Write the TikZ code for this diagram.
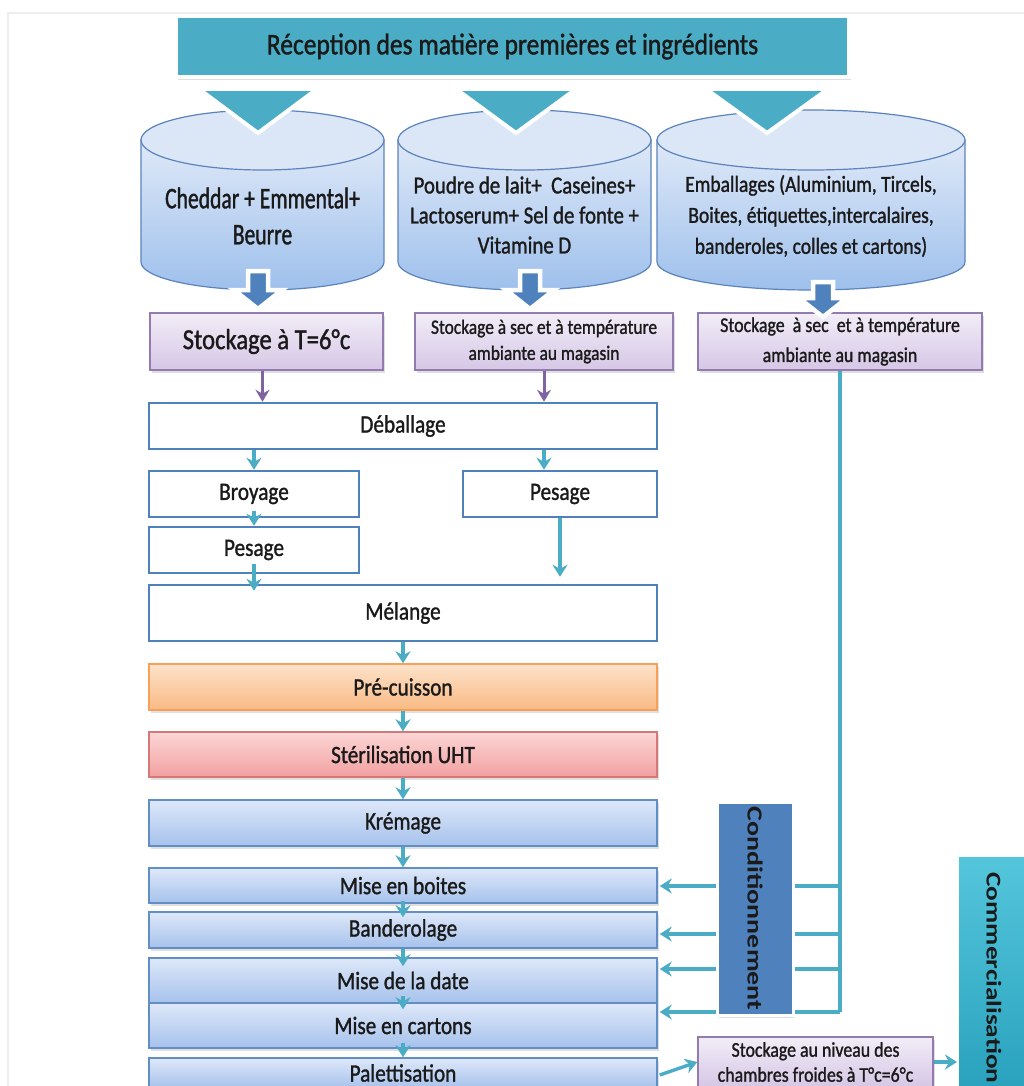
\documentclass[tikz,border=0pt]{standalone}
\usepackage{fontspec}
\usepackage{graphicx}
\setmainfont{Carlito}[FakeStretch=0.85,FakeBold=1.2]
\newfontfamily\narrowfont{Carlito}[FakeStretch=0.72,FakeBold=1.2]
\newfontfamily\widefont{Carlito}[FakeStretch=1.3]
\usetikzlibrary{arrows.meta,shadows}

\definecolor{tealA}{HTML}{4BACC6}
\definecolor{accB}{HTML}{4F81BD}
\definecolor{txt}{HTML}{1A1A1A}
\definecolor{tankline}{HTML}{5B83BC}
\definecolor{purpA}{HTML}{8064A2}
\definecolor{framegray}{HTML}{EEEEEE}
\definecolor{tankTop}{HTML}{DFE9F8}
\definecolor{tankBot}{HTML}{9EC0EC}
\definecolor{tankLid}{HTML}{DBE6F6}
\definecolor{storeTop}{HTML}{F2EDF7}
\definecolor{storeBot}{HTML}{D6C7E6}
\definecolor{blueTop}{HTML}{DEE8F9}
\definecolor{blueBot}{HTML}{A6C2EC}
\definecolor{orangeLine}{HTML}{F6A05A}
\definecolor{orangeTop}{HTML}{FDE2CA}
\definecolor{orangeBot}{HTML}{F9BA84}
\definecolor{redLine}{HTML}{D67878}
\definecolor{redTop}{HTML}{FCD6D6}
\definecolor{redBot}{HTML}{F2A0A0}
\definecolor{commTop}{HTML}{54C6DC}
\definecolor{commBot}{HTML}{28A0BC}

\newcommand\fsz[2]{\fontsize{#1}{#2}\selectfont}

% storage tank: left x, right x
\newcommand\tank[2]{%
  \pgfmathsetmacro\tkr{(#2-#1)/2}%
  \pgfmathsetmacro\tkc{(#2+#1)/2}%
  \path[tankbody] (#1,-140) -- (#1,-262)
    arc[start angle=180,end angle=360,x radius=\tkr pt,y radius=28pt]
    -- (#2,-140) -- cycle;
  \path[tanktop] (\tkc,-140) ellipse [x radius=\tkr pt, y radius=30pt];
}

% block arrow pointing down: centre x, shaft top, head base, tip
\newcommand\blockdown[4]{%
  \path[barrow] ({#1-10},-#2) -- ({#1+10},-#2) -- ({#1+10},-#3) -- ({#1+24},-#3)
    -- (#1,-#4) -- ({#1-24},-#3) -- ({#1-10},-#3) -- cycle;
}

\begin{document}
\begin{tikzpicture}[x=1pt,y=1pt,
  every node/.style={text=txt, align=center, inner sep=0pt},
  softshadow/.style={drop shadow={shadow xshift=2pt, shadow yshift=-3pt, opacity=0.25}},
  banner/.style={fill=tealA, draw=white, line width=4pt, softshadow,
    minimum width=673pt, minimum height=61pt, font=\fsz{30}{36}},
  chevron/.style={fill=tealA, draw=white, line width=4pt, line join=miter},
  tankbody/.style={draw=tankline, line width=1.2pt, top color=tankTop, bottom color=tankBot},
  tanktop/.style={draw=tankline, line width=1.2pt, fill=tankLid},
  tanktext/.style={text=txt},
  store/.style={draw=purpA!85, line width=1.4pt, top color=storeTop, bottom color=storeBot, softshadow},
  barrow/.style={fill=accB, draw=white, line width=4.5pt, line join=miter,
    drop shadow={shadow xshift=1pt, shadow yshift=-2pt, opacity=0.25}},
  proc/.style={draw=accB, line width=2.5pt, fill=white, font=\fsz{25}{30}},
  grad/.style={line width=1.5pt, font=\fsz{25}{30}, softshadow, minimum width=508pt},
  bluebox/.style={grad, draw=accB!90, top color=blueTop, bottom color=blueBot},
  orangebox/.style={grad, draw=orangeLine, top color=orangeTop, bottom color=orangeBot},
  redbox/.style={grad, draw=redLine, top color=redTop, bottom color=redBot},
  flow/.style={draw=tealA, line width=3.4pt, -{Stealth[length=12pt,width=15pt,inset=4pt]}},
  parrow/.style={draw=purpA, line width=3pt, -{Stealth[length=12pt,width=14pt,inset=4pt]}},
  tline/.style={draw=tealA, line width=3.4pt},
  condbox/.style={fill=accB, draw=white, line width=3pt, softshadow,
    minimum width=76pt, minimum height=213pt, font=\fsz{21.5}{26}},
  commbox/.style={draw=white, line width=2pt, top color=commTop, bottom color=commBot, softshadow,
    minimum width=72pt, minimum height=244pt, font=\fsz{21}{26}},
  framegrayline/.style={draw=framegray, line width=2pt}
]
\useasboundingbox (0,0) rectangle (1024,-1086);
\clip (0,0) rectangle (1024,-1086);
\fill[white] (0,0) rectangle (1024,-1086);

% page frame
\draw[framegrayline] (1024,-13) -- (8,-13) -- (8,-1086);

% reception banner
\node[banner] (recv) at (512.5,-46.5) {Réception des matière premières et ingrédients};

% raw material tanks
\tank{141}{384}
\tank{398}{651}
\tank{657}{965}
\node[tanktext, font=\narrowfont\fsz{30}{36}] (tankA) at (262.5,-216)
  {Cheddar + Emmental+\\Beurre};
\node[tanktext, font=\fsz{24.5}{30}] (tankB) at (524.5,-215)
  {Poudre de lait+\ \ Caseines+\\Lactoserum+ Sel de fonte +\\Vitamine D};
\node[tanktext, font=\fsz{23}{31}] (tankC) at (811,-216)
  {Emballages (Aluminium, Tircels,\\Boites, étiquettes,intercalaires,\\banderoles, colles et cartons)};

% chevrons from the banner into the tanks
\path[chevron] (199,-89) -- (317,-89) -- (258,-133) -- cycle;
\path[chevron] (456,-89) -- (576,-89) -- (516,-133) -- cycle;
\path[chevron] (706,-89) -- (828,-89) -- (767,-133) -- cycle;

% storage
\node[store, minimum width=233pt, minimum height=57pt, font=\fsz{29}{34}] (stA) at (266.5,-341.5)
  {Stockage à T=6°c};
\node[store, minimum width=258pt, minimum height=57pt, font=\fsz{20.5}{26}] (stB) at (544,-341.5)
  {Stockage à sec et à température\\ambiante au magasin};
\node[store, minimum width=284pt, minimum height=57pt, font=\fsz{21}{30}] (stC) at (840,-341.5)
  {Stockage\ \ à sec\ \ et à température\\ambiante au magasin};

% block arrows from tanks to storage
\blockdown{258}{271}{290}{309}
\blockdown{530}{271}{290}{309}
\blockdown{823}{282}{298}{317}

% preparation steps
\node[proc, minimum width=508pt, minimum height=46pt] (deb) at (403,-426) {Déballage};
\node[proc, minimum width=210pt, minimum height=46pt] (broy) at (254,-494) {Broyage};
\node[proc, minimum width=194pt, minimum height=46pt] (pesR) at (560,-494) {Pesage};
\node[proc, minimum width=210pt, minimum height=46pt] (pesL) at (254,-550) {Pesage};
\node[proc, minimum width=508pt, minimum height=56pt] (mel) at (403,-613) {Mélange};

% processing
\node[orangebox, minimum height=46pt] (prec) at (403,-687) {Pré-cuisson};
\node[redbox, minimum height=45pt] (ster) at (403,-754.5) {Stérilisation UHT};
\node[bluebox, minimum height=46pt] (krem) at (403,-823) {Krémage};
\node[bluebox, minimum height=35pt] (boites) at (403,-885.5) {Mise en boites};
\node[bluebox, minimum height=36pt] (band) at (403,-930) {Banderolage};
\node[bluebox, minimum height=45pt] (date) at (403,-980.5) {Mise de la date};
\node[bluebox, minimum height=45pt] (cart) at (403,-1025.5) {Mise en cartons};
\node[bluebox, minimum height=30pt] (palet) at (403,-1073) {Palettisation};

% storage to unpacking
\draw[parrow] ([xshift=-4pt]stA.south) -- ([xshift=-4pt]stA.south |- deb.north);
\draw[parrow] (stB.south) -- (stB.south |- deb.north);

% process flow
\draw[flow] (deb.south -| broy) -- (broy.north);
\draw[flow] (deb.south -| stB.south) -- (stB.south |- pesR.north);
\draw[flow] ([yshift=7pt]broy.south) -- (pesL.north);
\draw[flow] ([yshift=10pt]pesL.south) -- ([yshift=-7pt]pesL.south |- mel.north);
\draw[flow] (pesR.south) -- ([yshift=7pt]pesR.south |- mel.north);
\draw[flow] (mel.south) -- (prec.north);
\draw[flow] (prec.south) -- (ster.north);
\draw[flow] (ster.south) -- (krem.north);
\draw[flow] (krem.south) -- (boites.north);
\draw[flow] ([yshift=3pt]boites.south) -- ([yshift=-6pt]band.north);
\draw[flow] (band.south) -- ([yshift=-9pt]date.north);
\draw[flow] ([yshift=8pt]date.south) -- ([yshift=-7pt]cart.north);
\draw[flow] ([yshift=6pt]cart.south) -- (palet.north);

% packaging supply lines
\coordinate (k1) at (840,-886);
\coordinate (k2) at (840,-934);
\coordinate (k3) at (840,-969);
\coordinate (k4) at (840,-1012);
\draw[tline] (stC.south) -- (k4);
\draw[flow] (k1) -- ([xshift=2pt]k1 -| boites.east);
\draw[flow] (k2) -- ([xshift=2pt]k2 -| band.east);
\draw[flow] (k3) -- ([xshift=2pt]k3 -| date.east);
\draw[flow] (k4) -- ([xshift=2pt]k4 -| cart.east);

\node[condbox] (cond) at (755,-908.5) {\rotatebox{-90}{\widefont\bfseries Conditionnement}};

% cold storage and sale
\node[store, minimum width=235pt, minimum height=50pt, font=\fsz{21}{25}] (froid) at (815.5,-1062)
  {Stockage au niveau des\\chambres froides à T°c=6°c};
\node[commbox] (comm) at (994,-978) {\rotatebox{-90}{\widefont\bfseries Commercialisation}};

\draw[flow] ([xshift=2pt,yshift=-2pt]palet.east) -- (froid.west);
\draw[flow] (froid.east) -- (froid.east -| comm.west);
\end{tikzpicture}
\end{document}
